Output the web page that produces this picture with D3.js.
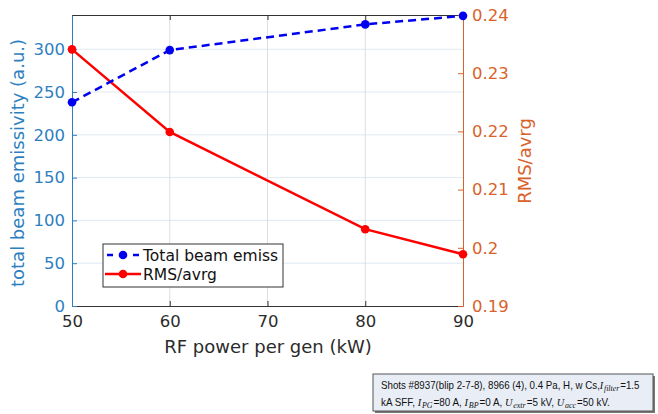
<!DOCTYPE html>
<html>
<head>
<meta charset="utf-8">
<script src="https://cdn.jsdelivr.net/npm/d3@7"></script>
<style>
  html, body { margin: 0; padding: 0; background: #fff; }
  svg { display: block; }
</style>
</head>
<body>
<svg id="chart" width="658" height="414"></svg>
<script>
// RF power per generator (kW)
const power = [50, 60, 80, 90];
// Total beam emissivity (a.u.), left axis
const emissivity = [238, 299, 329, 339];
// RMS / average, right axis
const rmsAvrg = [0.2341, 0.2199, 0.2032, 0.1989];

const xTicks = [50, 60, 70, 80, 90];
const leftTicks = [0, 50, 100, 150, 200, 250, 300];
const rightTicks = [0.19, 0.2, 0.21, 0.22, 0.23, 0.24];
const rightTickLabels = ["0.19", "0.2", "0.21", "0.22", "0.23", "0.24"];

const legendLabels = ["Total beam emiss", "RMS/avrg"];

// note lines: plain text, or [variable, subscript]
const noteLine1 = ["Shots #8937(blip 2-7-8), 8966 (4), 0.4 Pa, H, w Cs,", ["I", "filter"], "=1.5"];
const noteLine2 = ["kA SFF, ", ["I", "PG"], "=80 A, ", ["I", "BP"], "=0 A, ", ["U", "extr"], "=5 kV, ", ["U", "acc"], "=50 kV."];

const blueAxis = "#2e7fbf";
const orangeAxis = "#d9622b";
const font = "DejaVu Sans, sans-serif";

const svg = d3.select("#chart");
const L = 72, R = 463, T = 15, B = 306;

const x = d3.scaleLinear().domain([50, 90]).range([L, R]);
const yL = d3.scaleLinear().domain([0, 340]).range([B, T]);
const yR = d3.scaleLinear().domain([0.19, 0.24]).range([B, T]);

// grid
const grid = svg.append("g");
grid.selectAll("line.gy").data(leftTicks.filter(d => d > 0)).join("line")
  .attr("x1", L).attr("x2", R)
  .attr("y1", d => yL(d)).attr("y2", d => yL(d))
  .attr("stroke", "#dfe9f2").attr("stroke-width", 1);
grid.selectAll("line.gx").data(xTicks.slice(1, -1)).join("line")
  .attr("x1", d => x(d)).attr("x2", d => x(d))
  .attr("y1", T).attr("y2", B)
  .attr("stroke", "#d6dee6").attr("stroke-width", 1);

// axes
const xAxis = svg.append("g").attr("transform", `translate(0,${B})`)
  .call(d3.axisBottom(x).tickValues(xTicks).tickSize(-5).tickPadding(9).tickSizeOuter(0));
xAxis.select(".domain").attr("stroke", "#333");
xAxis.selectAll(".tick line").attr("stroke", "#333");
xAxis.selectAll(".tick text").attr("fill", "#2b2b2b").attr("font-size", 16.5).attr("font-family", font);

const xTop = svg.append("g").attr("transform", `translate(0,${T})`)
  .call(d3.axisTop(x).tickValues(xTicks).tickSize(-5).tickFormat("").tickSizeOuter(0));
xTop.select(".domain").attr("stroke", "#333");
xTop.selectAll(".tick line").attr("stroke", "#333");

const yAxisL = svg.append("g").attr("transform", `translate(${L},0)`)
  .call(d3.axisLeft(yL).tickValues(leftTicks).tickSize(-5).tickPadding(7).tickSizeOuter(0));
yAxisL.select(".domain").attr("stroke", blueAxis);
yAxisL.selectAll(".tick line").attr("stroke", blueAxis);
yAxisL.selectAll(".tick text").attr("fill", blueAxis).attr("font-size", 16.5).attr("font-family", font);

const yAxisR = svg.append("g").attr("transform", `translate(${R},0)`)
  .call(d3.axisRight(yR).tickValues(rightTicks).tickSize(-5).tickPadding(9).tickSizeOuter(0)
    .tickFormat((d, i) => rightTickLabels[i]));
yAxisR.select(".domain").attr("stroke", orangeAxis);
yAxisR.selectAll(".tick line").attr("stroke", orangeAxis);
yAxisR.selectAll(".tick text").attr("fill", orangeAxis).attr("font-size", 16.5).attr("font-family", font);

// axis titles
svg.append("text").attr("x", 268).attr("y", 353).attr("text-anchor", "middle")
  .attr("font-family", font).attr("font-size", 18).attr("fill", "#2b2b2b")
  .text("RF power per gen (kW)");
svg.append("text").attr("transform", "translate(24,163) rotate(-90)").attr("text-anchor", "middle")
  .attr("font-family", font).attr("font-size", 18).attr("fill", blueAxis)
  .text("total beam emissivity (a.u.)");
svg.append("text").attr("transform", "translate(531,161) rotate(-90)").attr("text-anchor", "middle")
  .attr("font-family", font).attr("font-size", 18).attr("fill", orangeAxis)
  .text("RMS/avrg");

// series
const lineL = d3.line().x((d, i) => x(power[i])).y(d => yL(d));
const lineR = d3.line().x((d, i) => x(power[i])).y(d => yR(d));

svg.append("path").datum(rmsAvrg).attr("d", lineR)
  .attr("fill", "none").attr("stroke", "#f00").attr("stroke-width", 2.5);
svg.selectAll("circle.r").data(rmsAvrg).join("circle")
  .attr("cx", (d, i) => x(power[i])).attr("cy", d => yR(d)).attr("r", 4.3).attr("fill", "#f00");

svg.append("path").datum(emissivity).attr("d", lineL)
  .attr("fill", "none").attr("stroke", "#0000f0").attr("stroke-width", 2.5)
  .attr("stroke-dasharray", "8,5");
svg.selectAll("circle.b").data(emissivity).join("circle")
  .attr("cx", (d, i) => x(power[i])).attr("cy", d => yL(d)).attr("r", 4.3).attr("fill", "#0000f0");

// legend
const lg = svg.append("g");
lg.append("rect").attr("x", 103).attr("y", 244).attr("width", 180).attr("height", 43)
  .attr("fill", "#fff").attr("stroke", "#333").attr("stroke-width", 1);
const entries = [
  { label: legendLabels[0], color: "#0000f0", dash: true, y: 255 },
  { label: legendLabels[1], color: "#f00", dash: false, y: 274 }
];
entries.forEach(e => {
  lg.append("line").attr("x1", 105).attr("x2", 141).attr("y1", e.y).attr("y2", e.y)
    .attr("stroke", e.color).attr("stroke-width", 2.5)
    .attr("stroke-dasharray", e.dash ? "6,7" : null).attr("stroke-dashoffset", e.dash ? -2 : null);
  lg.append("circle").attr("cx", 123).attr("cy", e.y).attr("r", 4.3).attr("fill", e.color);
  lg.append("text").attr("x", 143).attr("y", e.y + 5.5)
    .attr("font-family", font).attr("font-size", 15.5).attr("fill", "#111").text(e.label);
});

// shot-conditions note
const note = svg.append("g");
note.append("rect").attr("x", 375).attr("y", 376).attr("width", 280).attr("height", 37)
  .attr("fill", "#777");
note.append("rect").attr("x", 373).attr("y", 374).attr("width", 280).attr("height", 37)
  .attr("fill", "#e9eef6").attr("stroke", "#555").attr("stroke-width", 1);

const nf = "Liberation Sans, Arial, sans-serif";
const mf = "Liberation Serif, Times New Roman, serif";

// each line is laid out naturally, then squeezed horizontally to the box width
function noteText(parts, y, width) {
  const g = note.append("g");
  const t = g.append("text").attr("x", 0).attr("y", 0)
    .attr("font-family", nf).attr("font-size", 10.5).attr("fill", "#111");
  let lowered = false;
  parts.forEach(p => {
    if (typeof p === "string") {
      t.append("tspan").attr("dy", lowered ? -2 : null).attr("dx", lowered ? 1 : null).text(p);
      lowered = false;
    } else {
      t.append("tspan").attr("dy", lowered ? -2 : null)
        .attr("font-family", mf).attr("font-style", "italic").attr("font-size", 11).text(p[0]);
      t.append("tspan").attr("dy", 2).attr("dx", 0.8)
        .attr("font-family", mf).attr("font-style", "italic").attr("font-size", 8.5).text(p[1]);
      lowered = true;
    }
  });
  const natural = t.node().getBBox().width;
  g.attr("transform", `translate(381,${y}) scale(${width / natural},1)`);
}
noteText(noteLine1, 389, 259);
noteText(noteLine2, 406, 229);
</script>
</body>
</html>
